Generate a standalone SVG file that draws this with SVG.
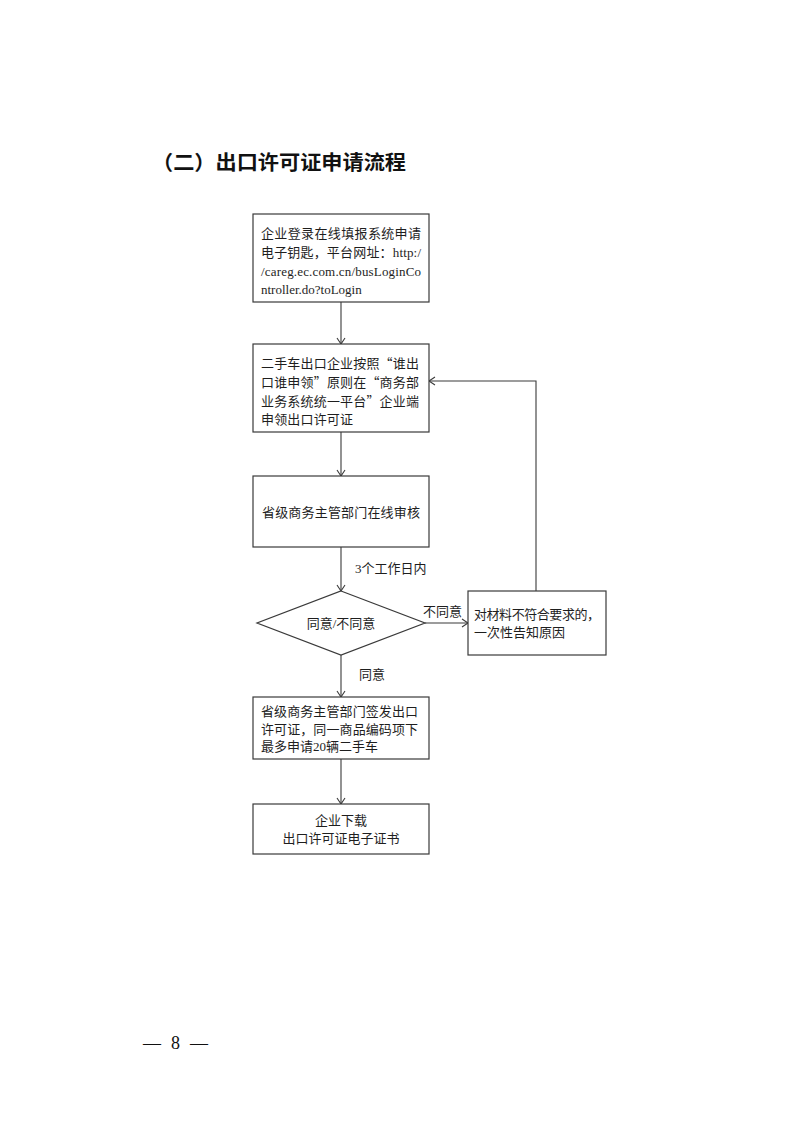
<svg xmlns="http://www.w3.org/2000/svg" width="794" height="1122" viewBox="0 0 794 1122">
<style>
.bg{fill:#ffffff}
.box{fill:#ffffff;stroke:#3a3a3a;stroke-width:1.2}
.t{font-family:"Liberation Serif","Noto Sans CJK SC",serif;font-size:13px;fill:#1e1e1e}
.q{font-family:"Noto Sans CJK SC",sans-serif}
.c{text-anchor:middle}
.title{font-family:"Noto Sans CJK SC","Liberation Sans",sans-serif;font-size:20px;font-weight:bold;fill:#111}
.pg{font-family:"Liberation Serif","Noto Sans CJK SC",serif;font-size:18px;fill:#111}
.ln{fill:none;stroke:#3a3a3a;stroke-width:1.1}
</style>
<defs>
<marker id="arr" markerWidth="10" markerHeight="10" refX="9" refY="5" orient="auto" markerUnits="userSpaceOnUse">
<path d="M3,1 L9,5 L3,9" fill="none" stroke="#3a3a3a" stroke-width="1.1"/>
</marker>
</defs>
<rect class="bg" x="0" y="0" width="794" height="1122"/>
<text class="title" x="152" y="170" textLength="254" lengthAdjust="spacingAndGlyphs">（二）出口许可证申请流程</text>

<g id="connectors">
<line class="ln" x1="341" y1="302" x2="341" y2="344" marker-end="url(#arr)"/>
<line class="ln" x1="341" y1="432" x2="341" y2="476" marker-end="url(#arr)"/>
<line class="ln" x1="341" y1="547" x2="341" y2="591" marker-end="url(#arr)"/>
<line class="ln" x1="425" y1="623" x2="468" y2="623" marker-end="url(#arr)"/>
<line class="ln" x1="341" y1="655" x2="341" y2="697" marker-end="url(#arr)"/>
<line class="ln" x1="341" y1="759" x2="341" y2="804" marker-end="url(#arr)"/>
<polyline class="ln" points="536,591 536,381 429,381" marker-end="url(#arr)"/>
<text class="t" x="355" y="573">3个工作日内</text>
<text class="t" x="423" y="616">不同意</text>
<text class="t" x="359" y="679">同意</text>
</g>

<g id="n1">
<rect class="box" x="253" y="214" width="176" height="88"/>
<text class="t" x="261" y="238" textLength="160" lengthAdjust="spacing">企业登录在线填报系统申请</text>
<text class="t" x="261" y="257" textLength="160" lengthAdjust="spacing">电子钥匙，平台网址：http:/</text>
<text class="t" x="261" y="276" textLength="160" lengthAdjust="spacing">/careg.ec.com.cn/busLoginCo</text>
<text class="t" x="261" y="294">ntroller.do?toLogin</text>
</g>

<g id="n2">
<rect class="box" x="253" y="344" width="176" height="88"/>
<text class="t" x="261" y="368" textLength="158" lengthAdjust="spacing">二手车出口企业按照<tspan class="q">“</tspan>谁出</text>
<text class="t" x="261" y="387" textLength="158" lengthAdjust="spacing">口谁申领<tspan class="q">”</tspan>原则在<tspan class="q">“</tspan>商务部</text>
<text class="t" x="261" y="406" textLength="158" lengthAdjust="spacing">业务系统统一平台<tspan class="q">”</tspan>企业端</text>
<text class="t" x="261" y="424" textLength="92" lengthAdjust="spacing">申领出口许可证</text>
</g>

<g id="n3">
<rect class="box" x="253" y="476" width="176" height="71"/>
<text class="t c" x="341" y="517" textLength="158" lengthAdjust="spacing">省级商务主管部门在线审核</text>
</g>

<g id="n4">
<polygon class="box" points="341,591 425,623 341,655 257,623"/>
<text class="t c" x="341" y="628">同意/不同意</text>
</g>

<g id="n5">
<rect class="box" x="468" y="591" width="138" height="64"/>
<text class="t" x="474" y="619" textLength="126" lengthAdjust="spacing">对材料不符合要求的，</text>
<text class="t" x="474" y="637">一次性告知原因</text>
</g>

<g id="n6">
<rect class="box" x="253" y="697" width="176" height="62"/>
<text class="t" x="261" y="716" textLength="157" lengthAdjust="spacing">省级商务主管部门签发出口</text>
<text class="t" x="261" y="734" textLength="157" lengthAdjust="spacing">许可证，同一商品编码项下</text>
<text class="t" x="261" y="751">最多申请20辆二手车</text>
</g>

<g id="n7">
<rect class="box" x="253" y="804" width="176" height="50"/>
<text class="t c" x="341" y="825">企业下载</text>
<text class="t c" x="341" y="843">出口许可证电子证书</text>
</g>

<text class="pg" x="143" y="1049" textLength="65" lengthAdjust="spacing">— 8 —</text>
</svg>
